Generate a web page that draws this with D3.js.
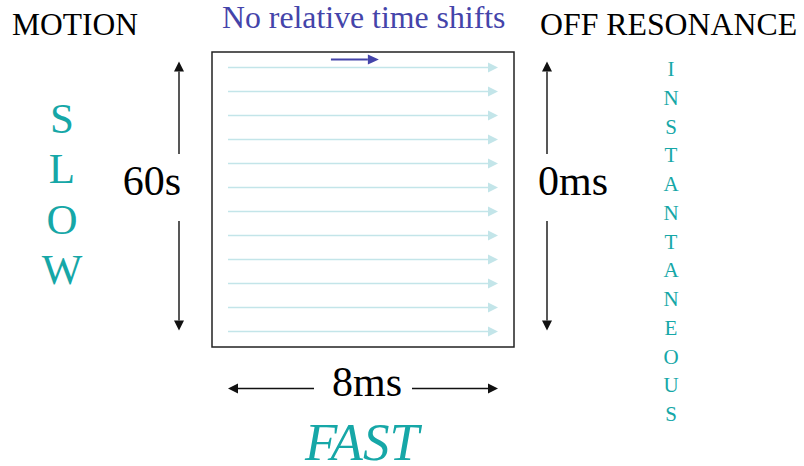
<!DOCTYPE html>
<html>
<head>
<meta charset="utf-8">
<script src="https://cdn.jsdelivr.net/npm/d3@7"></script>
<style>
  html, body { margin: 0; padding: 0; background: #fff; }
  svg { display: block; }
</style>
</head>
<body>
<script>
// ---- data ----
const cornerLabels = ["MOTION", "OFF RESONANCE"];
const topTitle = "No relative time shifts";
const leftSpan = "60s";
const rightSpan = "0ms";
const bottomSpan = "8ms";
const bottomWord = "FAST";
const leftWord = ["S", "L", "O", "W"];
const rightWord = ["I","N","S","T","A","N","T","A","N","E","O","U","S"];
const rowIds = [1,2,3,4,5,6,7,8,9,10,11,12];   // one arrow per acquisition row
const timeDomain = [0, 8];                       // ms across each row
const shiftArrow = [3.05, 4.47];                 // the blue reference arrow, in ms

const W = 804, H = 466;
const teal = "#16a7a7", lightCyan = "#c3e5e9", blue = "#4444aa";

const svg = d3.select("body").append("svg").attr("width", W).attr("height", H);

// scales
const x = d3.scaleLinear().domain(timeDomain).range([228, 498]);
const y = d3.scalePoint().domain(rowIds).range([67.5, 331.5]);

function hArrow(g, x0, x1, yy, color, sw, hl, hw) {
  const dir = x1 > x0 ? 1 : -1;
  g.append("line").attr("x1", x0).attr("x2", x1 - dir * hl).attr("y1", yy).attr("y2", yy)
    .attr("stroke", color).attr("stroke-width", sw);
  g.append("path").attr("d", `M${x1},${yy}L${x1 - dir*hl},${yy-hw}L${x1 - dir*hl},${yy+hw}Z`)
    .attr("fill", color);
}
function vArrow(g, xx, y0, y1, color, sw, hl, hw) {
  const dir = y1 > y0 ? 1 : -1;
  g.append("line").attr("x1", xx).attr("x2", xx).attr("y1", y0).attr("y2", y1 - dir * hl)
    .attr("stroke", color).attr("stroke-width", sw);
  g.append("path").attr("d", `M${xx},${y1}L${xx-hw},${y1 - dir*hl}L${xx+hw},${y1 - dir*hl}Z`)
    .attr("fill", color);
}
function label(g, txt, xx, yy, size, color, anchor, italic) {
  return g.append("text").attr("x", xx).attr("y", yy)
    .attr("font-family", "Liberation Serif")
    .attr("font-size", size)
    .attr("font-style", italic ? "italic" : "normal")
    .attr("text-anchor", anchor || "start").attr("fill", color || "#000").text(txt);
}

// box
svg.append("rect").attr("x", 212).attr("y", 52).attr("width", 302).attr("height", 295)
  .attr("fill", "none").attr("stroke", "#222").attr("stroke-width", 1.5);

// row arrows
const rows = svg.append("g");
rowIds.forEach(r => hArrow(rows, x(timeDomain[0]), x(timeDomain[1]), y(r), lightCyan, 1.6, 10, 5));

// blue shift arrow
hArrow(svg.append("g"), x(shiftArrow[0]), x(shiftArrow[1]), 59.5, blue, 2, 11, 5);

// vertical span arrows
const va = svg.append("g");
[179, 547].forEach(xx => {
  vArrow(va, xx, 154, 61.5, "#111", 1.4, 10, 5);
  vArrow(va, xx, 221, 330.5, "#111", 1.4, 10, 5);
});
// horizontal span arrow
const ha = svg.append("g");
hArrow(ha, 314, x(timeDomain[0]), 388.5, "#111", 1.4, 10, 5);
hArrow(ha, 412, x(timeDomain[1]), 388.5, "#111", 1.4, 10, 5);

// texts
const t = svg.append("g");
label(t, cornerLabels[0], 12, 35, 31.5);
label(t, cornerLabels[1], 540, 35, 31.8);
label(t, topTitle, 222, 28, 31.8, blue);
label(t, leftSpan, 152, 195, 42, "#000", "middle");
label(t, rightSpan, 573, 195, 42, "#000", "middle");
label(t, bottomSpan, 367, 395.5, 42, "#000", "middle");
label(t, bottomWord, 362, 460, 53, teal, "middle", true);

leftWord.forEach((d, i) => label(t, d, 62, 132.5 + i * 50.6, 43, teal, "middle"));
rightWord.forEach((d, i) => label(t, d, 671, 76 + i * 28.75, 21, teal, "middle"));
</script>
</body>
</html>
